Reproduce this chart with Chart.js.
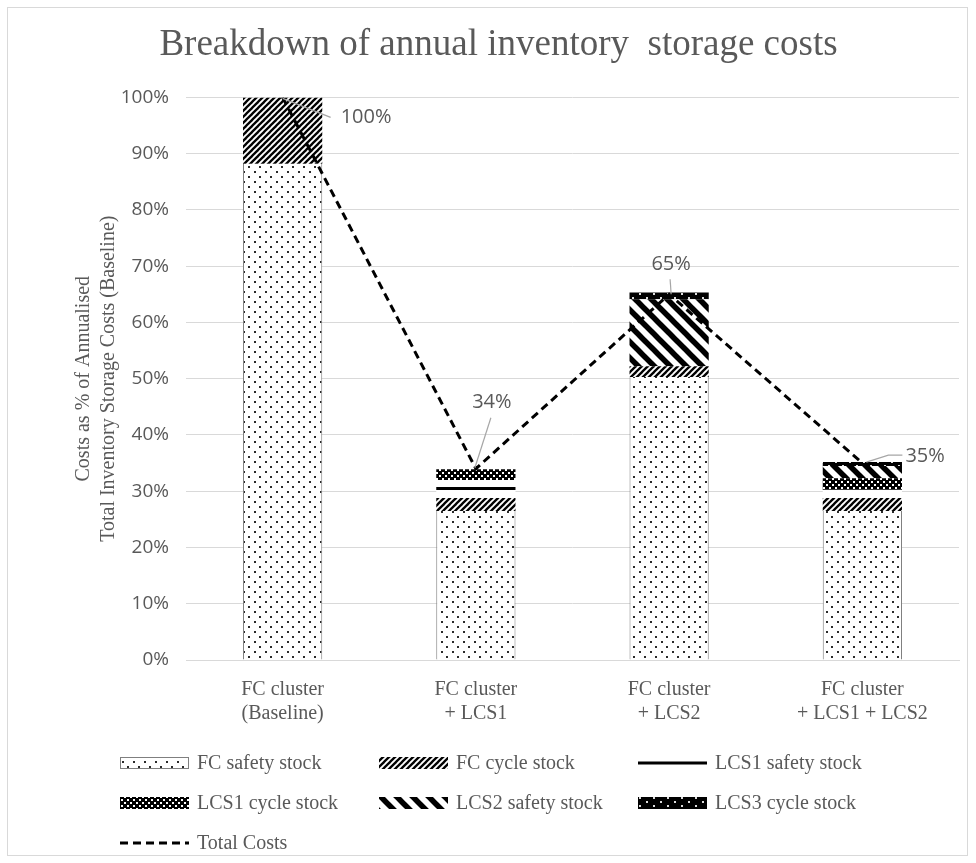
<!DOCTYPE html>
<html><head><meta charset="utf-8">
<script src="https://cdn.jsdelivr.net/npm/chart.js@4/dist/chart.umd.min.js"></script>
<style>
html,body{margin:0;padding:0;background:#fff;}
#wrap{position:relative;width:976px;height:863px;}
#frame{position:absolute;left:7px;top:7px;width:961px;height:849px;border:1px solid #d9d9d9;box-sizing:border-box;pointer-events:none;}
canvas{position:absolute;left:0;top:0;}
</style></head><body>
<div id="wrap"><canvas id="c" width="976" height="863"></canvas><div id="frame"></div></div>
<script>
// ---- data ----
const categories = [['FC cluster','(Baseline)'],['FC cluster','+ LCS1'],['FC cluster','+ LCS2'],['FC cluster','+ LCS1 + LCS2']];
const seriesNames = ['FC safety stock','FC cycle stock','LCS1 safety stock','LCS1 cycle stock','LCS2 safety stock','LCS3 cycle stock','Total Costs'];
const fcSafety   = [88.2, 26.5, 50.3, 26.5];
const fcCycle    = [11.8, 2.3, 1.9, 2.3];
const lcs1Safety = [0, 3.2, 0, 1.5];
const lcs1Cycle  = [0, 1.9, 0, 2.0];
const lcs2Safety = [0, 0, 11.9, 2.2];
const lcs3Cycle  = [0, 0, 1.2, 0.7];
const totalCosts = [100, 34, 65, 35];
const yMin = 0, yMax = 100, yStep = 10;
const chartTitle = 'Breakdown of annual inventory  storage costs';
const yTitle = ['Costs as % of Annualised','Total Inventory Storage Costs (Baseline)'];

// ---- patterns ----
const canvas = document.getElementById('c');
const ctx0 = canvas.getContext('2d');
function pat(w,h,fn){const c=document.createElement('canvas');c.width=w;c.height=h;const g=c.getContext('2d');fn(g,w,h);return ctx0.createPattern(c,'repeat');}
const pFcSafety = pat(11,10,(g,w,h)=>{g.fillStyle='#fff';g.fillRect(0,0,w,h);g.fillStyle='#2a2a2a';g.fillRect(1,1,2,2);g.fillRect(6,6,2,2);});
const pFcCycle = pat(6,6,(g,w,h)=>{g.fillStyle='#fff';g.fillRect(0,0,w,h);g.strokeStyle='#000';g.lineWidth=2.3;for(let k=-1;k<=1;k++){g.beginPath();g.moveTo(k*6-2,8);g.lineTo(k*6+8,-2);g.stroke();}});
const pLcs1Safety = pat(8,20,(g,w,h)=>{g.fillStyle='#fff';g.fillRect(0,0,w,h);g.fillStyle='#000';g.fillRect(0,7,w,3);});
const pLcs1Cycle = pat(6,6,(g,w,h)=>{g.fillStyle='#000';g.fillRect(0,0,w,h);g.fillStyle='#fff';g.fillRect(1,1,2,2);g.fillRect(4,4,2,2);});
const pLcs2Safety = pat(16,16,(g,w,h)=>{g.fillStyle='#fff';g.fillRect(0,0,w,h);g.strokeStyle='#000';g.lineWidth=5.5;for(let k=-1;k<=1;k++){g.beginPath();g.moveTo(k*16-3,-3);g.lineTo(k*16+19,19);g.stroke();}});
const pLcs3Cycle = pat(14,8,(g,w,h)=>{g.fillStyle='#000';g.fillRect(0,0,w,h);g.fillStyle='#dddddd';g.fillRect(2,1,2,2);g.fillRect(9,5,2,2);});

const TXT = '#595959';
function barDs(label, data, bg, extra){return Object.assign({type:'bar',label,data,backgroundColor:bg,borderWidth:0,order:1,stack:'s'},extra||{});}

const datasets = [
  barDs(seriesNames[0], fcSafety, pFcSafety, {borderColor:'#7f7f7f', borderWidth:{left:1,right:1,top:0,bottom:0}, borderSkipped:false, legendBorder:'#7f7f7f'}),
  barDs(seriesNames[1], fcCycle, pFcCycle),
  barDs(seriesNames[2], lcs1Safety, pLcs1Safety, {legendStyle:'solid'}),
  barDs(seriesNames[3], lcs1Cycle, pLcs1Cycle),
  barDs(seriesNames[4], lcs2Safety, pLcs2Safety),
  barDs(seriesNames[5], lcs3Cycle, pLcs3Cycle),
  {type:'line', label:seriesNames[6], data:totalCosts, borderColor:'#000', borderWidth:3, borderDash:[8,5], pointRadius:0, fill:false, order:0, tension:0, legendStyle:'dash'}
];

// label offsets relative to each line point: leader path points, text anchor
const labelLayout = [
  {leader:[[0,1],[48,20]], tx:58, ty:20, align:'left'},
  {leader:[[-1,-1],[15,-51]], tx:16, ty:-66, align:'center'},
  {leader:[[2,0],[1,-15]], tx:2, ty:-30, align:'center'},
  {leader:[[4,-1],[26,-8],[40,-8]], tx:43, ty:-7, align:'left'}
];

const dataLabelPlugin = {
  id:'dataLabels',
  afterDatasetsDraw(chart){
    const idx = chart.data.datasets.length-1;
    const meta = chart.getDatasetMeta(idx);
    const ctx = chart.ctx;
    ctx.save();
    meta.data.forEach((pt,i)=>{
      const L = labelLayout[i];
      ctx.strokeStyle='#a6a6a6'; ctx.lineWidth=1.2; ctx.setLineDash([]);
      ctx.beginPath();
      L.leader.forEach((p,j)=>{ if(j===0) ctx.moveTo(pt.x+p[0],pt.y+p[1]); else ctx.lineTo(pt.x+p[0],pt.y+p[1]); });
      ctx.stroke();
      ctx.fillStyle=TXT; ctx.font='20px "Open Sans"'; ctx.textAlign=L.align; ctx.textBaseline='middle';
      ctx.fillText(Math.round(chart.data.datasets[idx].data[i])+'%', pt.x+L.tx, pt.y+L.ty);
    });
    ctx.restore();
  }
};

const legendCols = [120, 379, 638];
const legendRows = [763, 803, 843];
const legendPlugin = {
  id:'customLegend',
  afterDraw(chart){
    const ctx = chart.ctx;
    ctx.save();
    chart.data.datasets.forEach((ds,i)=>{
      const x = legendCols[i%3], y = legendRows[Math.floor(i/3)];
      const bw = 69, bh = 12;
      if (ds.legendStyle==='dash'){
        ctx.strokeStyle='#000'; ctx.lineWidth=3; ctx.setLineDash([8,5]);
        ctx.beginPath(); ctx.moveTo(x,y); ctx.lineTo(x+bw,y); ctx.stroke(); ctx.setLineDash([]);
      } else if (ds.legendStyle==='solid'){
        ctx.fillStyle='#fff'; ctx.fillRect(x,y-bh/2,bw,bh);
        ctx.fillStyle='#000'; ctx.fillRect(x,y-1.5,bw,3);
      } else {
        ctx.fillStyle=ds.backgroundColor; ctx.fillRect(x,y-bh/2,bw,bh);
        if (ds.legendBorder){ctx.strokeStyle=ds.legendBorder;ctx.lineWidth=1;ctx.strokeRect(x+0.5,y-bh/2+0.5,bw-1,bh-1);}
      }
      ctx.fillStyle=TXT; ctx.font='20px "Liberation Serif"'; ctx.textAlign='left'; ctx.textBaseline='middle';
      ctx.fillText(ds.label, x+77, y+1);
    });
    ctx.restore();
  }
};

new Chart(canvas, {
  data:{labels:categories, datasets},
  options:{
    responsive:false, animation:false,
    datasets:{bar:{categoryPercentage:1, barPercentage:0.41}},
    layout:{padding:{left:38,right:17,top:0,bottom:133}},
    plugins:{
      legend:{display:false}, tooltip:{enabled:false},
      title:{display:true, text:chartTitle, color:TXT, font:{family:'Liberation Serif', size:37, weight:'normal', lineHeight:1.2}, padding:{top:23,bottom:30}}
    },
    scales:{
      x:{stacked:true,
         grid:{display:false, drawTicks:false}, border:{display:true,color:'#d9d9d9'},
         ticks:{color:TXT, font:{family:'Liberation Serif', size:20, lineHeight:1.2}, padding:18, maxRotation:0, autoSkip:false},
         afterFit:s=>{s.height=70;}},
      y:{stacked:true, min:yMin, max:yMax,
         ticks:{stepSize:yStep, color:TXT, font:{family:'Open Sans', size:19}, padding:17, callback:v=>v+'%'},
         grid:{color:'#d9d9d9', lineWidth:1, drawTicks:false}, border:{display:false},
         title:{display:true, text:yTitle, color:TXT, font:{family:'Liberation Serif', size:20, lineHeight:1.25}, padding:{top:33,bottom:0}},
         afterFit:s=>{s.width=148;}}
    }
  },
  plugins:[dataLabelPlugin, legendPlugin]
});
</script>
</body></html>
